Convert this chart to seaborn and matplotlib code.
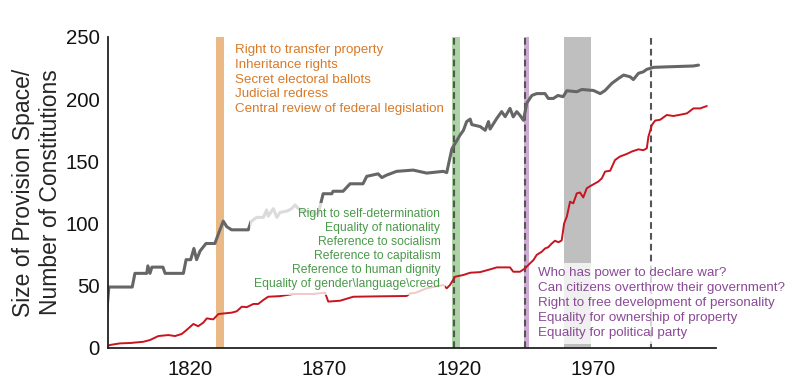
import pandas as pd
import numpy as np
import matplotlib
matplotlib.use('Agg')
import matplotlib.pyplot as plt
import seaborn as sns

# size of provision space (gray line)
space_years = [1789, 1790, 1798.7, 1799.7, 1804.1, 1804.5, 1805.3, 1806, 1810.1, 1810.9, 1817.7, 1818.7,
               1820.4, 1821.6, 1822.6, 1823.9, 1826.1, 1829.4, 1831, 1832.5, 1833.8, 1835.6, 1841.8, 1842.8,
               1844.9, 1847.4, 1848.6, 1849.2, 1851.1, 1852.4, 1853.6, 1856.1, 1857.9, 1859.2, 1860.4, 1862.2,
               1864.1, 1866, 1867.8, 1869.6, 1872.8, 1873.3, 1877, 1879.6, 1884.4, 1885.8, 1890, 1891.4, 1893.2,
               1896.9, 1903, 1908.1, 1914.2, 1915.5, 1917.4, 1920.4, 1921.7, 1922.9, 1924.2, 1924.8, 1927.9,
               1929.8, 1931, 1931.6, 1934.1, 1935.9, 1937.2, 1939, 1940.2, 1941.5, 1942.7, 1944, 1945.2, 1947.1,
               1948.9, 1952, 1953.2, 1955.1, 1956.8, 1958.7, 1960.1, 1963.8, 1965.7, 1970, 1972.5, 1974.3,
               1976.8, 1979.3, 1981.2, 1983.6, 1984.8, 1986.7, 1988.5, 1989.8, 1992.3, 1997.2, 2007.1, 2009]
space_vals = [22, 49, 49, 60, 60, 66, 60, 65, 65, 60, 60, 71,
              71, 80, 71, 78, 84, 84, 93.5, 102, 97.5, 95, 95, 101.6,
              105, 105, 111, 106, 112, 105, 109, 110, 112, 115, 112, 110,
              110, 108, 108, 124, 124, 126, 126, 132, 132, 138, 140, 137, 139,
              142, 143, 140.6, 142, 141, 160, 171, 175, 182, 184, 179.6, 178,
              175, 182, 176, 184.6, 190, 186, 192.6, 185.8, 190, 187, 183, 196.7, 203,
              204.5, 204.5, 200.6, 200.6, 203, 202, 206.8, 206, 207.8, 207, 204.5, 207,
              212.7, 216.7, 219.4, 218, 215.8, 220.8, 222, 224, 225.6, 226, 226.7, 227.4]

# number of constitutions (red line)
const_years = [1789, 1790.4, 1794.1, 1797.9, 1802.8, 1805.3, 1808.4, 1812.1, 1814.6, 1817.1, 1818.9, 1821.4,
               1823.2, 1825.1, 1826.4, 1828.8, 1830.7, 1835.6, 1837.5, 1839.4, 1841.2, 1843.7, 1845.5, 1847.4,
               1849.2, 1853.6, 1858.5, 1866, 1870.3, 1871.5, 1875.9, 1880.8, 1889.5, 1900.6, 1901.9, 1903.7,
               1908.1, 1914.2, 1915.5, 1916.7, 1918.6, 1921.7, 1924.2, 1927.9, 1931.6, 1934.1, 1939, 1940.2,
               1942.7, 1944.6, 1946.4, 1947.7, 1948.9, 1950.8, 1952, 1953.2, 1954.5, 1955.7, 1957, 1958.2,
               1959.1, 1960.1, 1961.3, 1962.5, 1963.8, 1965, 1966.2, 1967.5, 1968.7, 1971.8, 1973.1, 1974.3,
               1976.2, 1978, 1979.8, 1982.4, 1984.2, 1986.7, 1988.5, 1989.8, 1990.4, 1991.7, 1992.9, 1994.8,
               1997.2, 1999.7, 2002.2, 2004.7, 2007.1, 2009.6, 2012.1]
const_vals = [1, 2.4, 3.7, 4, 5, 6.4, 9.6, 10.4, 9.6, 11.3, 14.5, 19.3,
              17.5, 20.4, 23.8, 23, 27.3, 28.4, 29.5, 33.2, 32.8, 35.4, 35.4, 38.6,
              41.2, 41.7, 43.4, 43.4, 44.5, 37.3, 38, 41.2, 41.5, 41.8, 43.9, 44.2,
              48, 50.6, 48, 50.6, 57.3, 58.7, 60.5, 61, 63.2, 64.8, 64.8, 61.3,
              61.3, 64, 68, 70.7, 74.8, 77.4, 80, 81, 84, 86.2, 85, 86.5,
              100.2, 105.6, 117.6, 116.3, 124.3, 125, 121, 128.4, 130, 133.8, 136.4, 141.8,
              142.5, 151.1, 153.9, 156, 157.9, 159.7, 159, 160.5, 169.9, 179.3, 182.8, 183.5,
              187.3, 186.5, 187.5, 188.6, 192.6, 192.6, 194.5]

# highlighted periods and dashed markers
bands = [(1829.8, 1832.8, '#ebb986'), (1917.6, 1920.4, '#abd3a3'),
         (1944.2, 1946.2, '#cdabd2'), (1959.2, 1969.1, '#bfbfbf')]
dashed_years = [1918.2, 1944.5, 1991.4]

orange_text = ["Right to transfer property", "Inheritance rights", "Secret electoral ballots",
               "Judicial redress", "Central review of federal legislation"]
green_text = ["Right to self-determination", "Equality of nationality", "Reference to socialism",
              "Reference to capitalism", "Reference to human dignity",
              "Equality of gender\\language\\creed"]
purple_text = ["Who has power to declare war?", "Can citizens overthrow their government?",
               "Right to free development of personality", "Equality for ownership of property",
               "Equality for political party"]

sns.set_style('white')
plt.rcParams['font.family'] = ['Liberation Sans', 'DejaVu Sans']

fig = plt.figure(figsize=(8, 3.87), dpi=100)
ax = fig.add_axes([0.135, 0.1008, 0.76, 0.8036])

for x0, x1, c in bands:
    ax.axvspan(x0, x1, color=c, lw=0, zorder=0)
for x in dashed_years:
    ax.axvline(x, color='#555555', lw=1.5, ls=(0, (3.2, 2)), zorder=1)

df_space = pd.DataFrame({'year': space_years, 'value': space_vals})
df_const = pd.DataFrame({'year': const_years, 'value': const_vals})
sns.lineplot(data=df_space, x='year', y='value', color='#666666', lw=2.2, ax=ax, zorder=2)
sns.lineplot(data=df_const, x='year', y='value', color='#c8141e', lw=1.4, ax=ax, zorder=2)

box = dict(boxstyle='square,pad=0.35', facecolor='white', edgecolor='none', alpha=0.77)
ax.text(1836.9, 215.8, '\n'.join(orange_text), color='#d87a28', fontsize=9.6, linespacing=1.32,
        ha='left', va='center', bbox=box, zorder=3)
ax.text(1913.1, 79.6, '\n'.join(green_text), color='#4a9a4a', fontsize=8.7, linespacing=1.24,
        ha='right', va='center', multialignment='right', bbox=box, zorder=3)
ax.text(1949.5, 36.0, '\n'.join(purple_text), color='#8a4a96', fontsize=9.6, linespacing=1.32,
        ha='left', va='center', bbox=box, zorder=3)

ax.set_xlim(1789.7, 2015.5)
ax.set_ylim(0, 250)
ax.set_xticks([1820, 1870, 1920, 1970])
ax.set_yticks([0, 50, 100, 150, 200, 250])
ax.tick_params(axis='both', length=0, labelsize=14.7, colors='#111111')
ax.tick_params(axis='x', pad=9)
ax.tick_params(axis='y', pad=6)
ax.set_xlabel('')
ax.set_ylabel('Size of Provision Space/\nNumber of Constitutions', fontsize=16.5, labelpad=3)

sns.despine(ax=ax)
for s in ['left', 'bottom']:
    ax.spines[s].set_color('#222222')
    ax.spines[s].set_linewidth(1.3)

fig.savefig('out.png', dpi=100)
